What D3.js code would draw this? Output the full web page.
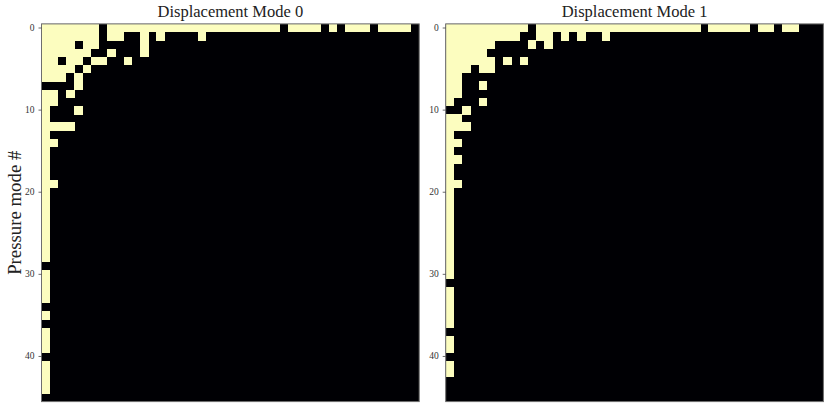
<!DOCTYPE html>
<html><head><meta charset="utf-8">
<script src="https://cdn.jsdelivr.net/npm/d3@7"></script>
<style>body{margin:0;background:#fff}</style>
</head><body>
<svg id="chart" width="830" height="412"></svg>
<script>
const N = 46;
const yTicks = [0, 10, 20, 30, 40];
const titles = ["Displacement Mode 0", "Displacement Mode 1"];
const yLabel = "Pressure mode #";

// light (yellow) cells of each row, as column ranges; all other cells are dark
const mode0 = [
  "0-6,8-28,30-33,35,37-39,41-44",
  "0-6,8-9,12,14,19",
  "0-3,5-6,12",
  "0-5,8,12",
  "0-1,3-4,6-7,10",
  "0-3,5",
  "0-2,4",
  "4",
  "0-1,3",
  "0-1",
  "0,4",
  "0",
  "0-3",
  "0",
  "0-1",
  "0", "0", "0", "0",
  "0-1",
  "0", "0", "0", "0", "0", "0", "0", "0", "0",
  "",
  "0", "0", "0", "0",
  "",
  "0",
  "",
  "0", "0", "0",
  "",
  "0", "0", "0", "0",
  ""
];
const mode1 = [
  "0-9,11-30,32-36,38-39,41-42",
  "0-8,11-12,14,16,19",
  "0-5,10,12",
  "0-4",
  "0-5,7,9",
  "0-2,4-5",
  "0-1",
  "0-1,4",
  "0-1",
  "0,4",
  "2",
  "0-1",
  "0-2",
  "0",
  "0-1",
  "0",
  "0-1",
  "0", "0",
  "0-1",
  "0", "0", "0", "0", "0", "0", "0", "0", "0", "0", "0",
  "",
  "0", "0", "0", "0", "0",
  "",
  "0", "0",
  "",
  "0", "0",
  "", "", ""
];

function parseRow(s) {
  const cols = [];
  if (!s) return cols;
  s.split(",").forEach(p => {
    const [a, b] = p.split("-").map(Number);
    for (let c = a; c <= (b === undefined ? a : b); c++) cols.push(c);
  });
  return cols;
}
function cells(rows) {
  const out = [];
  rows.forEach((s, r) => parseRow(s).forEach(c => out.push({ r, c })));
  return out;
}

const svg = d3.select("#chart");
const panelTop = 23.9, panelSize = 377.7;
const panelLefts = [41.5, 445.7];
const light = "#fcfdbf", dark = "#000004";
const font = "'Liberation Serif', 'DejaVu Serif', serif";

[mode0, mode1].forEach((rows, i) => {
  const x0 = panelLefts[i];
  const x = d3.scaleBand().domain(d3.range(N)).range([x0, x0 + panelSize]);
  const y = d3.scaleBand().domain(d3.range(N)).range([panelTop, panelTop + panelSize]);
  const g = svg.append("g");

  g.append("rect").attr("x", x0).attr("y", panelTop)
    .attr("width", panelSize).attr("height", panelSize).attr("fill", dark);

  g.selectAll("rect.cell").data(cells(rows)).join("rect")
    .attr("class", "cell")
    .attr("x", d => x(d.c)).attr("y", d => y(d.r))
    .attr("width", x.bandwidth() + 0.3).attr("height", y.bandwidth() + 0.3)
    .attr("fill", light).attr("shape-rendering", "crispEdges");

  g.append("rect").attr("x", x0).attr("y", panelTop)
    .attr("width", panelSize).attr("height", panelSize)
    .attr("fill", "none").attr("stroke", "#6e6e6e").attr("stroke-width", 1);

  const ax = g.append("g").attr("transform", `translate(${x0},0)`)
    .call(d3.axisLeft(y).tickValues(yTicks).tickSize(3).tickPadding(4));
  ax.select(".domain").remove();
  ax.selectAll("line").attr("stroke", "#444").attr("stroke-width", 0.8);
  ax.selectAll("text").attr("font-family", font).attr("font-size", 9.5).attr("fill", "#333");

  g.append("text").attr("x", x0 + panelSize / 2).attr("y", 17.3)
    .attr("text-anchor", "middle").attr("font-family", font)
    .attr("font-size", 16.5).attr("fill", "#222").text(titles[i]);
});

svg.append("text")
  .attr("transform", `translate(21,${panelTop + panelSize / 2}) rotate(-90)`)
  .attr("text-anchor", "middle").attr("font-family", font)
  .attr("font-size", 18.8).attr("fill", "#222").text(yLabel);
</script>
</body></html>
